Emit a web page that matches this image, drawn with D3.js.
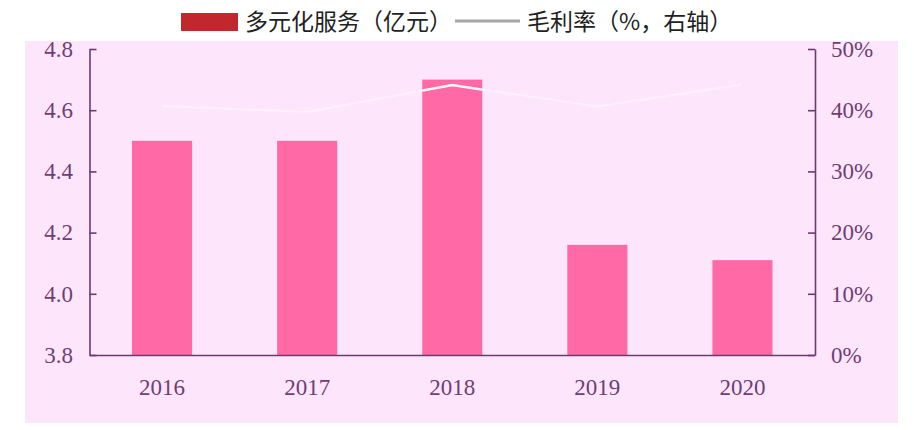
<!DOCTYPE html>
<html>
<head>
    <meta charset="utf-8">
    <title>多元化服务</title>
    <script src="https://d3js.org/d3.v7.min.js"></script>
    <style>
        body { margin: 0; padding: 0; background: #fff; }
        .axis { font-family: "Liberation Serif", serif; }
        .tick text { font-family: "Liberation Serif", serif; font-size: 23px; fill: #6e3f74; }
        .axis path, .axis line { stroke: #6b3a6f; stroke-width: 1.6; }
        .legend text { font-family: "Noto Sans CJK SC", sans-serif; font-size: 23px; fill: #222; }
    </style>
</head>
<body>
<svg id="svg" width="914" height="430"></svg>
<script>
    const years = ["2016", "2017", "2018", "2019", "2020"];
    const revenue = [4.50, 4.50, 4.70, 4.16, 4.11];     // 多元化服务（亿元）
    const margin = [40.7, 39.7, 44.1, 40.6, 44.2];      // 毛利率（%）
    const leftTicks = [3.8, 4.0, 4.2, 4.4, 4.6, 4.8];
    const rightTicks = [0, 10, 20, 30, 40, 50];

    const svg = d3.select("#svg");

    // Pink plot background.
    svg.append("rect")
        .attr("x", 25).attr("y", 41)
        .attr("width", 873).attr("height", 382)
        .attr("fill", "#fde6fc");

    const plotLeft = 89.5, plotRight = 815, plotTop = 49, plotBottom = 355;

    const x = d3.scaleBand().domain(years).range([plotLeft, plotRight])
        .paddingInner(0.586).paddingOuter(0.293);
    const y = d3.scaleLinear().domain([3.8, 4.8]).range([plotBottom, plotTop]);
    const y2 = d3.scaleLinear().domain([0, 50]).range([plotBottom, plotTop]);

    // Bars.
    const barX = d => x(d);
    const barY = (d, i) => y(revenue[i]);
    const barH = (d, i) => plotBottom - y(revenue[i]);

    svg.append("g").selectAll("rect")
        .data(years)
        .join("rect")
        .attr("x", barX).attr("y", barY)
        .attr("width", x.bandwidth()).attr("height", barH)
        .attr("fill", "#ff6aa6");

    // Clip used to show the line clearly where it crosses a bar.
    svg.append("clipPath").attr("id", "bars-clip")
        .selectAll("rect")
        .data(years)
        .join("rect")
        .attr("x", barX).attr("y", barY)
        .attr("width", x.bandwidth()).attr("height", barH);

    // Gross margin line (almost white).
    const line = d3.line()
        .x((d, i) => x(years[i]) + x.bandwidth() / 2)
        .y(d => y2(d));
    svg.append("path")
        .datum(margin)
        .attr("fill", "none")
        .attr("stroke", "#fff")
        .attr("stroke-opacity", 0.35)
        .attr("stroke-width", 2)
        .attr("d", line);
    svg.append("path")
        .datum(margin)
        .attr("clip-path", "url(#bars-clip)")
        .attr("fill", "none")
        .attr("stroke", "#fff")
        .attr("stroke-opacity", 0.9)
        .attr("stroke-width", 2.5)
        .attr("d", line);

    // Axes.
    svg.append("g")
        .attr("class", "axis")
        .attr("transform", `translate(${plotLeft},0)`)
        .call(d3.axisLeft(y).tickValues(leftTicks).tickFormat(d3.format(".1f"))
            .tickSizeInner(-7).tickSizeOuter(0).tickPadding(16.5));

    svg.append("g")
        .attr("class", "axis")
        .attr("transform", `translate(${plotRight},0)`)
        .call(d3.axisRight(y2).tickValues(rightTicks).tickFormat(d => d + "%")
            .tickSizeInner(-7).tickSizeOuter(0).tickPadding(16));

    svg.append("g")
        .attr("class", "axis")
        .attr("transform", `translate(0,${plotBottom})`)
        .call(d3.axisBottom(x).tickSize(0).tickPadding(23.7));

    // Legend.
    const legend = svg.append("g").attr("class", "legend");
    legend.append("rect")
        .attr("x", 181).attr("y", 13)
        .attr("width", 57).attr("height", 18)
        .attr("fill", "#c1272d");
    legend.append("text")
        .attr("x", 245).attr("y", 30)
        .text("多元化服务（亿元）");
    legend.append("line")
        .attr("x1", 455).attr("x2", 520)
        .attr("y1", 21).attr("y2", 21)
        .attr("stroke", "#a6a6a6").attr("stroke-width", 3);
    legend.append("text")
        .attr("x", 527).attr("y", 30)
        .text("毛利率（%，右轴）");
</script>
</body>
</html>
